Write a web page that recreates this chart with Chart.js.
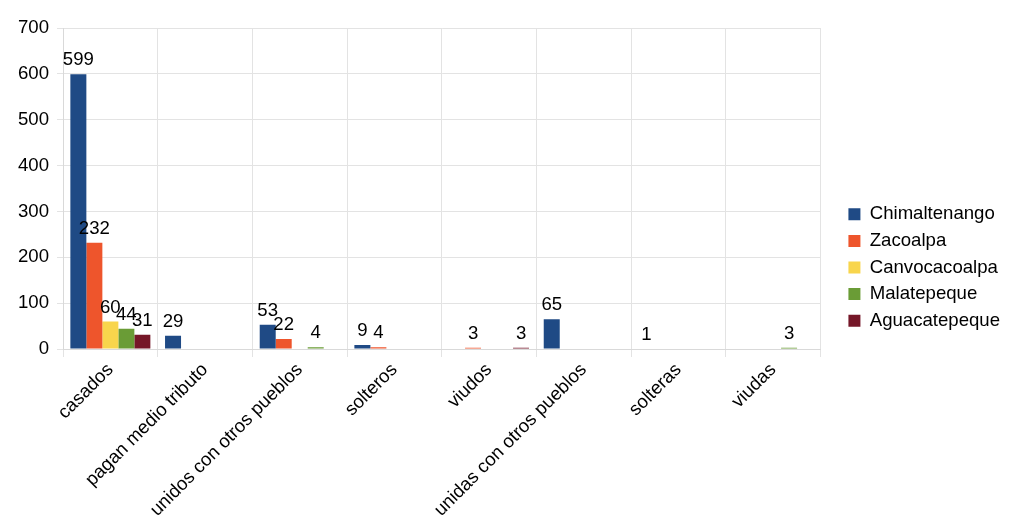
<!DOCTYPE html>
<html>
<head>
<meta charset="utf-8">
<script src="https://cdn.jsdelivr.net/npm/chart.js@4/dist/chart.umd.min.js"></script>
<style>
  html, body { margin: 0; padding: 0; background: #fff; }
  #wrap { width: 1024px; height: 531px; }
</style>
</head>
<body>
<div id="wrap"><canvas id="chart"></canvas></div>
<script>
// data
const categories = ['casados', 'pagan medio tributo', 'unidos con otros pueblos', 'solteros',
    'viudos', 'unidas con otros pueblos', 'solteras', 'viudas'];
const chimaltenango = [599, 29, 53, 9, null, 65, 1, null];
const zacoalpa = [232, null, 22, 4, 3, null, null, null];
const canvocacoalpa = [60, null, null, null, null, null, null, null];
const malatepeque = [44, null, 4, null, null, null, null, 3];
const aguacatepeque = [31, null, null, null, 3, null, null, null];
const yTicks = [0, 100, 200, 300, 400, 500, 600, 700];

const FONT = 'Liberation Sans, Arial, sans-serif';
const SIZE = 18.6;

// draws the value above each bar
const valueLabels = {
    id: 'valueLabels',
    afterDatasetsDraw(chart) {
        const ctx = chart.ctx;
        ctx.save();
        ctx.font = SIZE + 'px ' + FONT;
        ctx.fillStyle = '#000';
        ctx.textAlign = 'center';
        ctx.textBaseline = 'alphabetic';
        chart.data.datasets.forEach((ds, i) => {
            const meta = chart.getDatasetMeta(i);
            meta.data.forEach((bar, j) => {
                const v = ds.data[j];
                if (v === null || v === undefined) return;
                ctx.fillText(String(v), bar.x, bar.y - 9);
            });
        });
        ctx.restore();
    }
};

// nudge the legend block a little, as in the original
const legendShift = {
    id: 'legendShift',
    afterLayout(chart) {
        const lg = chart.legend;
        lg.left += 20; lg.right += 20;
        lg.top -= 8; lg.bottom -= 8;
    }
};

new Chart(document.getElementById('chart'), {
    type: 'bar',
    data: {
        labels: categories,
        datasets: [
            { label: 'Chimaltenango', data: chimaltenango, backgroundColor: '#1f4a85' },
            { label: 'Zacoalpa', data: zacoalpa, backgroundColor: '#ee552c' },
            { label: 'Canvocacoalpa', data: canvocacoalpa, backgroundColor: '#f8d54c' },
            { label: 'Malatepeque', data: malatepeque, backgroundColor: '#6a9c36' },
            { label: 'Aguacatepeque', data: aguacatepeque, backgroundColor: '#751728' }
        ]
    },
    options: {
        responsive: true,
        maintainAspectRatio: false,
        animation: false,
        layout: { padding: { top: 28, right: 34, left: 10, bottom: 8 } },
        datasets: { bar: { categoryPercentage: 0.845, barPercentage: 1 } },
        plugins: {
            legend: {
                position: 'right',
                labels: {
                    color: '#000',
                    font: { family: FONT, size: SIZE },
                    boxWidth: 12,
                    boxHeight: 12,
                    padding: 8
                }
            },
            tooltip: { enabled: false }
        },
        scales: {
            x: {
                grid: { color: '#e3e3e3', offset: true, tickLength: 8 },
                border: { color: '#d9d9d9' },
                ticks: {
                    color: '#000',
                    font: { family: FONT, size: SIZE },
                    minRotation: 45,
                    maxRotation: 45,
                    autoSkip: false,
                    padding: 2
                }
            },
            y: {
                min: 0,
                max: 700,
                afterBuildTicks: axis => { axis.ticks = yTicks.map(v => ({ value: v })); },
                grid: { color: '#e3e3e3', tickLength: 6 },
                border: { color: '#d9d9d9' },
                ticks: {
                    color: '#000',
                    font: { family: FONT, size: SIZE },
                    padding: 8
                }
            }
        }
    },
    plugins: [valueLabels, legendShift]
});
</script>
</body>
</html>
